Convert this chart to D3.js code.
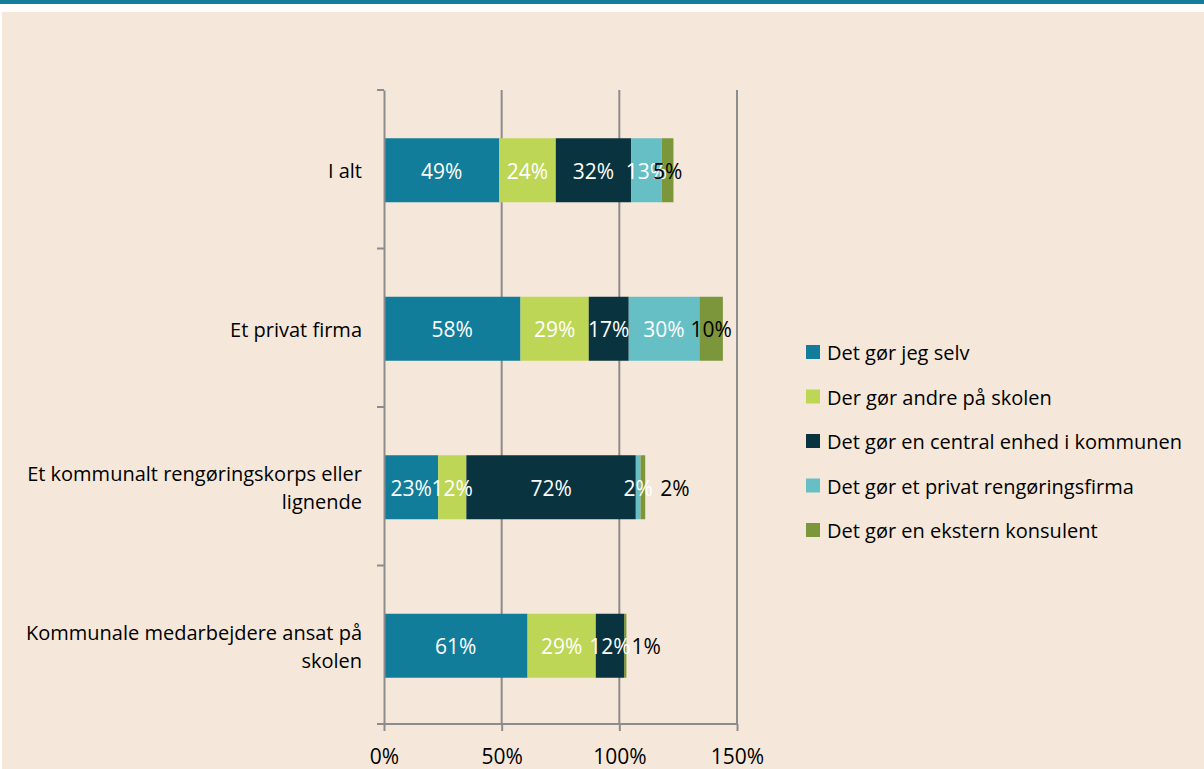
<!DOCTYPE html>
<html>
<head>
<meta charset="utf-8">
<script src="https://cdn.jsdelivr.net/npm/d3@7"></script>
<style>
  html, body { margin: 0; padding: 0; background: #ffffff; }
  svg { display: block; }
  text { font-family: "Open Sans", "Noto Sans", sans-serif; }
</style>
</head>
<body>
<svg id="chart" width="1204" height="769"></svg>
<script>
const categories = [
  "I alt",
  "Et privat firma",
  "Et kommunalt rengøringskorps eller lignende",
  "Kommunale medarbejdere ansat på skolen"
];
const seriesNames = [
  "Det gør jeg selv",
  "Der gør andre på skolen",
  "Det gør en central enhed i kommunen",
  "Det gør et privat rengøringsfirma",
  "Det gør en ekstern konsulent"
];
const selvValues    = [49, 58, 23, 61];
const andreValues   = [24, 29, 12, 29];
const centralValues = [32, 17, 72, 12];
const privatValues  = [13, 30, 2, 0];
const eksternValues = [5, 10, 2, 1];
const xTicks = [0, 50, 100, 150];

const seriesValues = [selvValues, andreValues, centralValues, privatValues, eksternValues];
const colors = ["#117d9a", "#bed656", "#08333f", "#66bfc5", "#7c963c"];
const labelColors = ["#ffffff", "#ffffff", "#ffffff", "#ffffff", "#000000"];
// manual nudges of some last-series labels (as in the original)
const lastLabelNudge = [0, 0, 32, 21];

const svg = d3.select("#chart");
const W = 1204, H = 769;

// background
svg.append("rect").attr("x", 0).attr("y", 0).attr("width", W).attr("height", H).attr("fill", "#ffffff");
svg.append("rect").attr("x", 2).attr("y", 12).attr("width", W - 2).attr("height", H - 12).attr("fill", "#f5e8da");
svg.append("rect").attr("x", 0).attr("y", 0).attr("width", W).attr("height", 4).attr("fill", "#117d9a");

const x = d3.scaleLinear().domain([0, 150]).range([384, 737]);
const y = d3.scaleBand().domain(categories).range([90, 724]).padding(0);
const barH = 64;

const table = categories.map((c, i) => {
  const o = { cat: c };
  seriesNames.forEach((s, j) => o[s] = seriesValues[j][i]);
  return o;
});
const stacked = d3.stack().keys(seriesNames)(table);

const gridColor = "#8c8c8c";

// gridlines
svg.append("g").selectAll("line").data(xTicks.slice(1)).join("line")
  .attr("x1", d => x(d)).attr("x2", d => x(d))
  .attr("y1", 90).attr("y2", 724)
  .attr("stroke", gridColor).attr("stroke-width", 2);

// bars
const groups = svg.append("g").selectAll("g").data(stacked).join("g")
  .attr("fill", (d, i) => colors[i]);
groups.selectAll("rect").data(d => d).join("rect")
  .attr("x", d => x(d[0]))
  .attr("width", d => x(d[1]) - x(d[0]))
  .attr("y", d => y(d.data.cat) + y.bandwidth() / 2 - barH / 2 + 1)
  .attr("height", barH);

// y axis
const yAxis = d3.axisLeft(y).tickSize(0).tickFormat("");
const gy = svg.append("g").attr("transform", "translate(384,0)").call(yAxis);
gy.select(".domain").attr("stroke", gridColor).attr("stroke-width", 2);
// boundary ticks
const bounds = categories.map(c => y(c)).concat([y.range()[1]]);
svg.append("g").selectAll("line").data(bounds).join("line")
  .attr("x1", 377).attr("x2", 384).attr("y1", d => d).attr("y2", d => d)
  .attr("stroke", gridColor).attr("stroke-width", 2);

// category labels
const catG = svg.append("g");
categories.forEach(c => {
  const t = catG.append("text")
    .attr("x", 362).attr("text-anchor", "end")
    .attr("font-size", 20).attr("fill", "#000");
  const words = c.split(" ");
  const lines = [];
  let cur = [];
  const maxW = 350;
  const tmp = t.append("tspan");
  words.forEach(w => {
    const test = cur.concat([w]).join(" ");
    tmp.text(test);
    if (tmp.node().getComputedTextLength() > maxW && cur.length) {
      lines.push(cur.join(" "));
      cur = [w];
    } else cur.push(w);
  });
  lines.push(cur.join(" "));
  tmp.remove();
  const lh = 28;
  const cy = y(c) + y.bandwidth() / 2 + 2;
  lines.forEach((l, k) => {
    t.append("tspan").attr("x", 362)
      .attr("y", cy + (k - (lines.length - 1) / 2) * lh)
      .attr("dy", "0.35em").text(l);
  });
});

// x axis
const xAxis = d3.axisBottom(x).tickValues(xTicks).tickSize(7).tickPadding(18).tickFormat(d => d + "%");
const gx = svg.append("g").attr("transform", "translate(0,724)").call(xAxis);
gx.select(".domain").attr("d", "M377,0H737").attr("stroke", gridColor).attr("stroke-width", 2);
gx.selectAll(".tick line").attr("stroke", gridColor).attr("stroke-width", 2);
gx.selectAll(".tick text").attr("font-size", 21).attr("fill", "#000")
  .attr("font-family", "'Open Sans', 'Noto Sans', sans-serif");

// data labels
const lblG = svg.append("g");
stacked.forEach((s, j) => {
  s.forEach((d, i) => {
    const v = d[1] - d[0];
    if (v <= 0) return;
    let cx = (x(d[0]) + x(d[1])) / 2;
    if (j === seriesNames.length - 1) cx += lastLabelNudge[i];
    lblG.append("text")
      .attr("x", cx)
      .attr("y", y(d.data.cat) + y.bandwidth() / 2 + 2)
      .attr("dy", "0.35em")
      .attr("text-anchor", "middle")
      .attr("font-size", 21)
      .attr("fill", labelColors[j])
      .text(v + "%");
  });
});

// legend
const legend = svg.append("g");
seriesNames.forEach((s, j) => {
  const cy = 352 + j * 44.5;
  legend.append("rect").attr("x", 806).attr("y", cy - 7).attr("width", 14).attr("height", 14).attr("fill", colors[j]);
  legend.append("text").attr("x", 827).attr("y", cy + 1).attr("dy", "0.35em")
    .attr("font-size", 20).attr("fill", "#000").text(s);
});
</script>
</body>
</html>
